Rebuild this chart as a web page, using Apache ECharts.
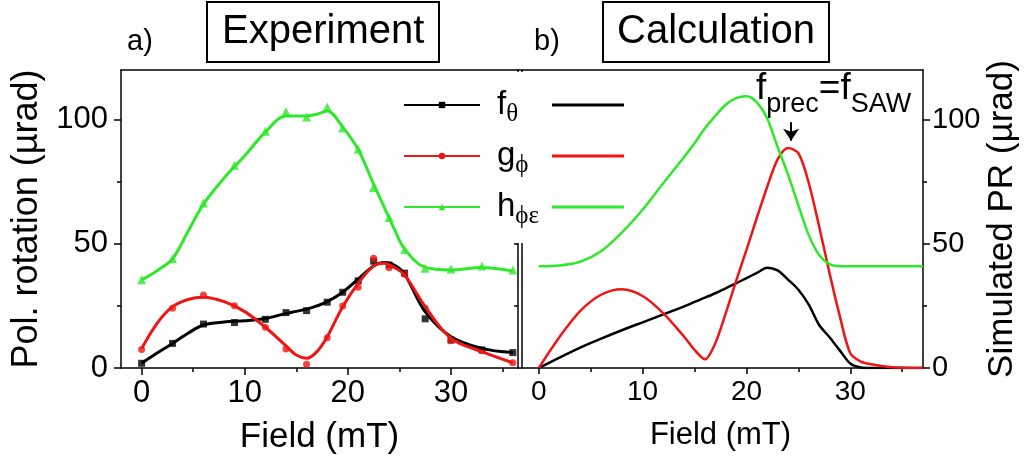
<!DOCTYPE html>
<html>
<head>
<meta charset="utf-8">
<script src="https://cdn.jsdelivr.net/npm/echarts@6/dist/echarts.min.js"></script>
<style>
  html, body { margin: 0; padding: 0; background: #fff; }
  #chart { width: 1025px; height: 461px; }
</style>
</head>
<body>
<div id="chart"></div>
<script>
// a) Experiment - measured points
var expField = [0, 3, 6, 9, 12, 14, 16, 18, 19.5, 21, 22.5, 24, 25.5, 27.5, 30, 33, 36];
var expF = [1.9, 9.9, 17.7, 18.3, 19.6, 22.3, 23.1, 26.5, 30.5, 35.1, 43.0, 41.5, 38.2, 19.8, 11.3, 7.3, 6.2];
var expG = [7.5, 24.1, 29.4, 25.1, 16.4, 7.7, 1.5, 12.2, 25.0, 32.5, 44.2, 40.4, 37.8, 24.1, 11.0, 6.9, 2.1];
var expH = [35.5, 44.0, 66.4, 81.6, 95.3, 103.3, 101.1, 105.1, 96.6, 88.2, 72.7, 60.6, 47.6, 40.2, 39.9, 41.1, 39.5];

// a) fitted curves
var fitField = [0, 1.5, 3, 4.5, 6, 8, 10, 12, 14, 15, 16, 17, 18, 19.5, 21, 22.5, 23.5, 24.5, 25.5, 27.5, 30, 33, 36];
var fitF = [1.9, 6.0, 9.9, 14.0, 17.3, 18.5, 19.0, 19.9, 22.0, 22.8, 23.7, 25.0, 26.7, 30.5, 35.8, 41.1, 42.5, 41.5, 37.8, 22.7, 12.6, 7.9, 6.2];
var fitG = [7.8, 18.0, 24.7, 27.6, 28.5, 26.7, 22.7, 16.4, 8.9, 5.2, 3.9, 6.6, 12.6, 24.7, 34.1, 41.1, 42.2, 40.5, 37.5, 24.7, 12.0, 6.6, 2.1];
var fitH = [35.5, 39.2, 44.0, 55.0, 66.0, 76.5, 85.5, 95.0, 101.5, 101.5, 101.5, 102.2, 103.5, 97.0, 88.0, 74.0, 65.0, 56.0, 48.0, 40.5, 39.5, 40.5, 39.0];

// b) Calculation
var calcField = [0, 2, 4, 6, 8, 10, 12, 14, 15, 16, 17, 18, 19, 20, 21, 22, 23, 24, 25, 26, 27, 28, 29, 30, 31, 32, 34, 37];
var calcF = [0, 4.2, 8.2, 11.8, 15.2, 18.4, 21.6, 24.8, 26.6, 28.3, 30.1, 32.1, 34.1, 36.2, 38.3, 40.4, 39.3, 35.6, 31.5, 25.5, 17.3, 12.4, 7.0, 1.8, 0.2, 0, 0, 0];
var calcG = [0, 12.5, 23.0, 29.5, 31.7, 29.0, 22.0, 12.6, 7.3, 3.5, 10.0, 22.0, 35.0, 47.6, 60.5, 73.0, 84.0, 88.6, 86.5, 74.5, 57.0, 38.2, 20.7, 5.9, 2.6, 1.5, 0.3, 0];
var calcH = [41, 41.3, 42.8, 47.0, 54.5, 63.7, 74.5, 85.0, 90.5, 96.5, 101.5, 106.0, 108.7, 109.4, 107.0, 100.5, 89.0, 78.0, 65.5, 53.5, 45.5, 41.8, 41.0, 41.0, 41.0, 41.0, 41.0, 41.0];

// ticks
var xMajor = [0, 10, 20, 30];
var xMinor = [5, 15, 25, 35];
var yMajor = [0, 50, 100];
var yMinor = [25, 75];

var names = ['fθ', 'gϕ', 'hϕε'];
var calcNames = ['fθ calc', 'gϕ calc', 'hϕε calc'];
var legendText = {'fθ': '{m|f}{s|θ}', 'gϕ': '{m|g}{s|ϕ}', 'hϕε': '{m|h}{s|ϕε}'};

var BLACK = '#000000', RED = '#f01414', GREEN = '#2ee82a';
var FONT = "'Liberation Sans', Arial, sans-serif";
var SERIF = "'Liberation Serif', 'Times New Roman', serif";
var axLine = { show: true, onZero: false, lineStyle: { color: '#000', width: 1.5 } };
var noLine = { show: false, onZero: false };

function zip(xs, ys) {
  return xs.map(function (x, i) { return [x, ys[i]]; });
}

function xAx(grid, max, opts) {
  return Object.assign({
    gridIndex: grid, type: 'value', min: -2, max: max, position: 'bottom',
    axisLine: axLine, splitLine: { show: false },
    axisTick: { show: false }, axisLabel: { show: false }
  }, opts);
}
function yAx(grid, pos, opts) {
  return Object.assign({
    gridIndex: grid, type: 'value', min: 0, max: 120, position: pos,
    axisLine: axLine, splitLine: { show: false },
    axisTick: { show: false }, axisLabel: { show: false }
  }, opts);
}
function ticks(vals, len, inside) {
  return { show: true, customValues: vals, length: len, inside: !!inside, lineStyle: { color: '#000', width: 1.5 } };
}

var chart = echarts.init(document.getElementById('chart'));

var option = {
  animation: false,
  backgroundColor: '#fff',
  title: [
    { text: 'a)', left: 127, top: 27, padding: 0, textStyle: { fontSize: 29, fontWeight: 'normal', color: '#000', fontFamily: FONT } },
    { text: 'Experiment', left: 207, top: 2, padding: [9, 15, 9, 15], borderColor: '#000', borderWidth: 2,
      textStyle: { fontSize: 40, lineHeight: 42, fontWeight: 'normal', color: '#000', fontFamily: FONT } },
    { text: 'b)', left: 534, top: 27, padding: 0, textStyle: { fontSize: 29, fontWeight: 'normal', color: '#000', fontFamily: FONT } },
    { text: 'Calculation', left: 603, top: 2, padding: [9, 14, 9, 14], borderColor: '#000', borderWidth: 2,
      textStyle: { fontSize: 40, lineHeight: 42, fontWeight: 'normal', color: '#000', fontFamily: FONT } },
    { text: '{m|f}{s|prec}{m|=f}{s|SAW}', left: 756, top: 70, padding: 0,
      textStyle: {
        rich: {
          m: { fontSize: 37, lineHeight: 40, verticalAlign: 'top', fontWeight: 'normal', color: '#000', fontFamily: FONT },
          s: { fontSize: 27, lineHeight: 28, padding: [21, 0, 0, 0], verticalAlign: 'top', fontWeight: 'normal', color: '#000', fontFamily: FONT }
        }
      } }
  ],
  grid: [
    { left: 121, top: 70, width: 397, height: 298 },
    { left: 518, top: 70, width: 405, height: 298 }
  ],
  legend: [
    {
      orient: 'vertical', left: 403, top: 83, padding: 0, itemWidth: 76, itemHeight: 8, itemGap: 7,
      selectedMode: false, data: names,
      formatter: function (n) { return legendText[n]; },
      textStyle: {
        lineHeight: 44,
        rich: {
          m: { fontSize: 33, lineHeight: 44, padding: [0, 0, 0, 12], color: '#000', fontFamily: FONT },
          s: { fontSize: 25, lineHeight: 22, verticalAlign: 'bottom', color: '#000', fontFamily: SERIF }
        }
      }
    },
    {
      orient: 'vertical', left: 552, top: 83, padding: 0, itemWidth: 72, itemHeight: 3, itemGap: 7,
      icon: 'rect', selectedMode: false, data: calcNames,
      formatter: function () { return ' '; },
      textStyle: { fontSize: 12, lineHeight: 44 }
    }
  ],
  graphic: [
    // white legend background hiding the panel borders behind it
    { type: 'rect', z: 3, shape: { x: 505, y: 72, width: 26, height: 171 }, style: { fill: '#fff' } }
  ],
  xAxis: [
    xAx(0, 36.5, {
      axisTick: ticks(xMajor, 7),
      axisLabel: { show: true, customValues: xMajor, fontSize: 31, margin: 10, color: '#000', fontFamily: FONT },
      name: 'Field (mT)', nameLocation: 'middle', nameGap: 52,
      nameTextStyle: { fontSize: 35, color: '#000', fontFamily: FONT }
    }),
    xAx(0, 36.5, { axisLine: noLine, axisTick: ticks(xMinor, 4) }),
    xAx(0, 36.5, { position: 'top' }),
    xAx(1, 37, {
      axisTick: ticks(xMajor, 6),
      axisLabel: { show: true, customValues: xMajor, fontSize: 28, margin: 10, color: '#000', fontFamily: FONT },
      name: 'Field (mT)', nameLocation: 'middle', nameGap: 52,
      nameTextStyle: { fontSize: 31, color: '#000', fontFamily: FONT }
    }),
    xAx(1, 37, { axisLine: noLine, axisTick: ticks(xMinor, 4) }),
    xAx(1, 37, { position: 'top' })
  ],
  yAxis: [
    yAx(0, 'left', {
      axisTick: ticks(yMajor, 7),
      axisLabel: { show: true, customValues: yMajor, fontSize: 31, margin: 13, color: '#000', fontFamily: FONT },
      name: 'Pol. rotation (µrad)', nameLocation: 'middle', nameGap: 76, nameRotate: 90,
      nameTextStyle: { fontSize: 36, color: '#000', fontFamily: FONT }
    }),
    yAx(0, 'left', { axisLine: noLine, axisTick: ticks(yMinor, 4) }),
    yAx(0, 'right', { axisTick: ticks([25, 50, 75], 4, true) }),
    yAx(1, 'right', {
      axisTick: ticks(yMajor, 7),
      axisLabel: { show: true, customValues: yMajor, fontSize: 29, margin: 9, color: '#000', fontFamily: FONT },
      name: 'Simulated PR (µrad)', nameLocation: 'middle', nameGap: 62, nameRotate: 90,
      nameTextStyle: { fontSize: 35, color: '#000', fontFamily: FONT }
    }),
    yAx(1, 'right', { axisLine: noLine, axisTick: ticks(yMinor, 4) }),
    yAx(1, 'left', { offset: -4 })
  ],
  series: [
    // a) fitted curves (these carry the legend)
    { name: names[2], type: 'line', xAxisIndex: 0, yAxisIndex: 0, data: zip(fitField, fitH), smooth: 0.35,
      symbol: 'triangle', showSymbol: false, lineStyle: { color: GREEN, width: 3 }, itemStyle: { color: GREEN } },
    { name: names[0], type: 'line', xAxisIndex: 0, yAxisIndex: 0, data: zip(fitField, fitF), smooth: 0.35,
      symbol: 'rect', showSymbol: false, lineStyle: { color: BLACK, width: 3 }, itemStyle: { color: BLACK } },
    { name: names[1], type: 'line', xAxisIndex: 0, yAxisIndex: 0, data: zip(fitField, fitG), smooth: 0.35,
      symbol: 'circle', showSymbol: false, lineStyle: { color: RED, width: 3 }, itemStyle: { color: RED } },
    // a) measured points
    { name: 'h pts', type: 'scatter', xAxisIndex: 0, yAxisIndex: 0, data: zip(expField, expH),
      symbol: 'triangle', symbolSize: 9, itemStyle: { color: GREEN } },
    { name: 'f pts', type: 'scatter', xAxisIndex: 0, yAxisIndex: 0, data: zip(expField, expF),
      symbol: 'rect', symbolSize: 7, itemStyle: { color: BLACK } },
    { name: 'g pts', type: 'scatter', xAxisIndex: 0, yAxisIndex: 0, data: zip(expField, expG),
      symbol: 'circle', symbolSize: 7, itemStyle: { color: RED } },
    // b) calculation
    { name: calcNames[0], type: 'line', xAxisIndex: 3, yAxisIndex: 3, data: zip(calcField, calcF), smooth: 0.3,
      symbol: 'none', lineStyle: { color: BLACK, width: 2.5 }, itemStyle: { color: BLACK } },
    { name: calcNames[1], type: 'line', xAxisIndex: 3, yAxisIndex: 3, data: zip(calcField, calcG), smooth: 0.3,
      symbol: 'none', lineStyle: { color: RED, width: 2.5 }, itemStyle: { color: RED },
      markLine: {
        silent: true, symbol: ['none', 'arrow'], symbolSize: 12,
        label: { show: false },
        lineStyle: { color: '#000', width: 2, type: 'solid' },
        data: [[{ coord: [24.3, 99] }, { coord: [24.3, 91.5] }]]
      } },
    { name: calcNames[2], type: 'line', xAxisIndex: 3, yAxisIndex: 3, data: zip(calcField, calcH), smooth: 0.3,
      symbol: 'none', lineStyle: { color: GREEN, width: 2.5 }, itemStyle: { color: GREEN } }
  ]
};

chart.setOption(option);
</script>
</body>
</html>
